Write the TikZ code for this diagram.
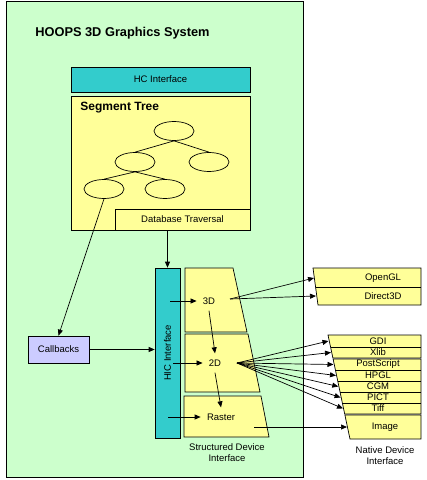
\documentclass[tikz,border=0pt]{standalone}
\usepackage{fontspec}
\setmainfont{Liberation Sans}
\usetikzlibrary{shapes.geometric, arrows.meta}
\definecolor{sysgreen}{HTML}{CCFFCC}
\definecolor{segyellow}{HTML}{FFFF99}
\definecolor{ifteal}{HTML}{33CCCC}
\definecolor{cbviolet}{HTML}{CCCCFF}
\tikzset{
    box/.style={draw, rectangle, inner sep=0pt, font=\fontsize{9.5}{11}\selectfont},
    seg/.style={draw, ellipse, minimum width=40pt, minimum height=19pt, inner sep=0pt},
    lbl/.style={inner sep=0pt, font=\fontsize{9.5}{11}\selectfont, align=center},
    stage/.style={inner sep=6pt, font=\fontsize{9.5}{11}\selectfont},
    head/.style={inner sep=0pt, font=\bfseries\fontsize{12}{14}\selectfont, anchor=west},
    arr/.style={-{Triangle[length=6pt,width=5pt]}}
}

\begin{document}
\begin{tikzpicture}[x=1pt, y=-1pt, line width=0.7pt]
    \useasboundingbox (0,0) rectangle (427,480);
    \node[box, fill=sysgreen, minimum width=297pt, minimum height=476pt] (sys) at (154.5,239) {};
    \node[head, font=\bfseries\fontsize{12.8}{14}\selectfont] (title) at (35,33) {HOOPS 3D Graphics System};
    \node[box, fill=ifteal, minimum width=179pt, minimum height=25pt] (hc) at (160.5,79.5) {HC Interface};
    \node[box, fill=segyellow, minimum width=179pt, minimum height=134pt] (tree) at (160.5,163) {};
    \node[head] (treetitle) at (80,108) {Segment Tree};
    \node[box, fill=segyellow, minimum width=135pt, minimum height=21pt] (db) at (182.5,219.5) {Database Traversal};

    % segment tree
    \node[seg] (s0) at (174,131) {};
    \node[seg] (s1) at (135,162) {};
    \node[seg] (s2) at (209,162) {};
    \node[seg] (s3) at (104,189) {};
    \node[seg] (s4) at (165,189) {};
    \draw (s0.south) -- (s1.north);
    \draw (s0.south) -- (s2.north);
    \draw (s1.south) -- (s3.north);
    \draw (s1.south) -- (s4.north);

    \node[box, fill=cbviolet, minimum width=61pt, minimum height=27pt] (cb) at (58.5,349.5) {Callbacks};
    \node[box, fill=ifteal, minimum width=25pt, minimum height=170pt] (hic) at (167.5,353) {};
    \node[lbl, rotate=90] (hiclbl) at (hic) {HIC Interface};
    \draw[arr] (s3.south) -- (cb.north);
    \draw[arr] (hic.north |- db.south) -- (hic.north);
    \draw[arr] (cb.east) -- (cb.east -| hic.west);

    % structured device interface
    \draw[fill=segyellow] (185,268) -- (233,268) -- (247,332) -- (185,332) -- cycle;
    \draw[fill=segyellow] (185,334) -- (248,334) -- (260,392) -- (185,392) -- cycle;
    \draw[fill=segyellow] (184,396) -- (261,396) -- (269,437) -- (184,437) -- cycle;
    \node[stage] (d3) at (209,301) {3D};
    \node[stage] (d2) at (215,363) {2D};
    \node[stage] (rast) at (221,417) {Raster};
    \draw[arr] ([xshift=-10pt]hic.east |- d3.west) -- (d3.west);
    \draw[arr] ([xshift=-7pt]hic.east |- d2.west) -- (d2.west);
    \draw[arr] ([xshift=-12pt]hic.east |- rast.west) -- (rast.west);
    \draw[arr] (d3.south) -- (d2.north);
    \draw[arr] (d2.south) -- (rast.north);
    \node[lbl] (sdi) at (227,452.5) {Structured Device\\Interface};

    % native device interface
    \draw[fill=segyellow] (313,268) -- (421,268) -- (421,305) -- (318,305) -- cycle;
    \draw (315.6,287) -- (421,287);
    \draw[fill=segyellow] (328,335) -- (421,335) -- (421,358) -- (332.9,358) -- cycle;
    \draw (330.5,347) -- (421,347);
    \draw[fill=segyellow] (333.1,359) -- (421,359) -- (421,414) -- (344.7,414) -- cycle;
    \draw (335.4,370) -- (421,370);
    \draw (337.7,381) -- (421,381);
    \draw (340.1,392) -- (421,392);
    \draw (342.4,403) -- (421,403);
    \draw[fill=segyellow] (344.9,415) -- (421,415) -- (421,439) -- (350,439) -- cycle;
    \node[lbl] (ogl) at (383,278) {OpenGL};
    \node[lbl] (d3d) at (383,296) {Direct3D};
    \node[lbl] (gdi) at (378,341) {GDI};
    \node[lbl] (xlib) at (378,352.5) {Xlib};
    \node[lbl] (ps) at (378,364.5) {PostScript};
    \node[lbl] (hpgl) at (378,375.5) {HPGL};
    \node[lbl] (cgm) at (378,386.5) {CGM};
    \node[lbl] (pict) at (378,397.5) {PICT};
    \node[lbl] (tiff) at (378,408.5) {Tiff};
    \node[lbl] (img) at (385,427) {Image};
    \node[lbl] (ndi) at (385,455.5) {Native Device\\Interface};

    \coordinate (d3out) at (230,299);
    \coordinate (d2out) at (237,363);
    \coordinate (rastout) at (254,427);
    \coordinate (oglin) at (314,278);
    \coordinate (d3din) at (316,296);
    \coordinate (gdiin) at (328.5,341);
    \coordinate (xlibin) at (331,352.5);
    \coordinate (psin) at (333.5,364.5);
    \coordinate (hpglin) at (336,375.5);
    \coordinate (cgmin) at (338.3,386.5);
    \coordinate (pictin) at (340.6,397.5);
    \coordinate (tiffin) at (343,408.5);
    \coordinate (imgin) at (347,427);
    \draw[arr] (d3out) -- (oglin);
    \draw[arr] (d3out) -- (d3din);
    \draw[arr] (d2out) -- (gdiin);
    \draw[arr] (d2out) -- (xlibin);
    \draw[arr] (d2out) -- (psin);
    \draw[arr] (d2out) -- (hpglin);
    \draw[arr] (d2out) -- (cgmin);
    \draw[arr] (d2out) -- (pictin);
    \draw[arr] (d2out) -- (tiffin);
    \draw[arr] (rastout) -- (imgin);
\end{tikzpicture}
\end{document}
